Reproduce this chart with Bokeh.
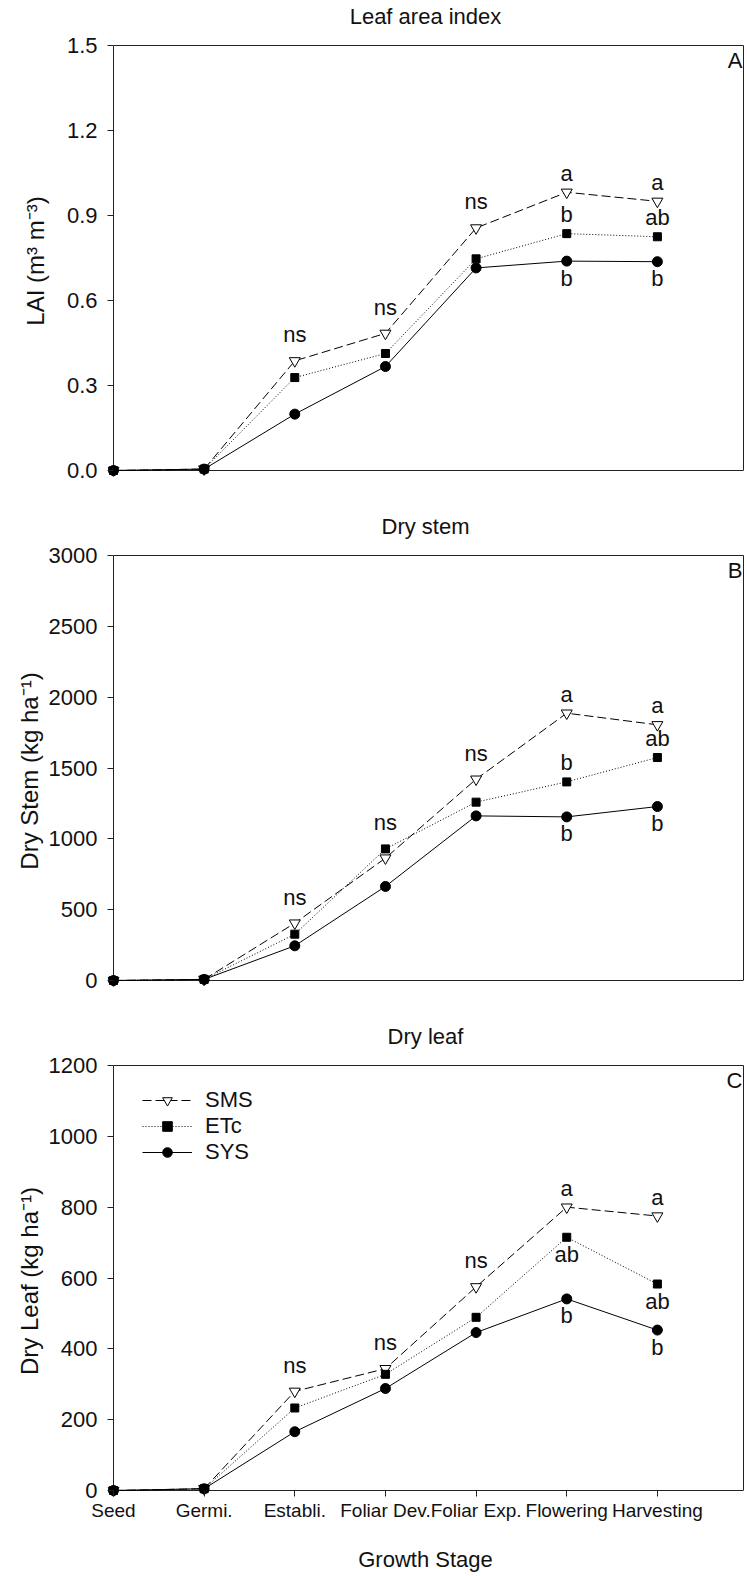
from bokeh.plotting import figure
from bokeh.models import (Range1d, LinearAxis, FixedTicker, NumeralTickFormatter,
                          Legend, LegendItem, Label, ColumnDataSource)
from bokeh.layouts import column
from bokeh.core.properties import value
from bokeh.embed import file_html
from bokeh.resources import INLINE

# ---------------- data ----------------
STAGES = ["Seed", "Germi.", "Establi.", "Foliar Dev.", "Foliar Exp.", "Flowering", "Harvesting"]
SERIES = ["SMS", "ETc", "SYS"]

LAI_SMS = [0.0, 0.005, 0.387, 0.484, 0.856, 0.982, 0.950]
LAI_ETC = [0.0, 0.005, 0.328, 0.413, 0.747, 0.836, 0.825]
LAI_SYS = [0.0, 0.005, 0.199, 0.367, 0.715, 0.739, 0.737]

STEM_SMS = [0, 8, 405, 864, 1421, 1887, 1805]
STEM_ETC = [0, 8, 327, 929, 1259, 1402, 1574]
STEM_SYS = [0, 8, 245, 664, 1162, 1155, 1228]

LEAF_SMS = [0, 5, 280, 344, 575, 800, 775]
LEAF_ETC = [0, 5, 233, 328, 489, 715, 583]
LEAF_SYS = [0, 5, 166, 288, 446, 541, 453]

LAI_TICKS = [0.0, 0.3, 0.6, 0.9, 1.2, 1.5]
STEM_TICKS = [0, 500, 1000, 1500, 2000, 2500, 3000]
LEAF_TICKS = [0, 200, 400, 600, 800, 1000, 1200]

# significance letters: (stage index, series or None = highest, text, side)
LAI_MARKS = [(2, None, "ns", "above"), (3, None, "ns", "above"), (4, None, "ns", "above"),
             (5, "SMS", "a", "above"), (5, "ETc", "b", "above"), (5, "SYS", "b", "below"),
             (6, "SMS", "a", "above"), (6, "ETc", "ab", "above"), (6, "SYS", "b", "below")]
STEM_MARKS = [(2, None, "ns", "above"), (3, None, "ns", "above"), (4, None, "ns", "above"),
              (5, "SMS", "a", "above"), (5, "ETc", "b", "above"), (5, "SYS", "b", "below"),
              (6, "SMS", "a", "above"), (6, "ETc", "ab", "above"), (6, "SYS", "b", "below")]
LEAF_MARKS = [(2, None, "ns", "above"), (3, None, "ns", "above"), (4, None, "ns", "above"),
              (5, "SMS", "a", "above"), (5, "ETc", "ab", "below"), (5, "SYS", "b", "below"),
              (6, "SMS", "a", "above"), (6, "ETc", "ab", "below"), (6, "SYS", "b", "below")]

# ---------------- style ----------------
FONT = "Liberation Sans"
W = 745
PAD = 6                      # px between frame edge and the zero lines
FRAME_L = 107
FRAME_R = 2
TOP = 44
FRAME_H = 432
X_END = 6.95
FRAME_W = W - FRAME_L - FRAME_R
X_START = -X_END * PAD / (FRAME_W - PAD)
AX = "#222222"
TXT = "#111111"

STYLE = {
    "SMS": dict(dash="9 4", marker="inverted_triangle", size=11, fill="white"),
    "ETc": dict(dash="1 2", marker="square", size=8, fill="black"),
    "SYS": dict(dash="solid", marker="circle", size=10, fill="black"),
}


def bare_axis(ax):
    ax.major_tick_out = 0
    ax.major_tick_in = 0
    ax.major_label_standoff = 0
    ax.minor_tick_line_color = None
    ax.major_tick_line_color = None


def label_style(ax, size, standoff):
    ax.axis_label_text_font = FONT
    ax.axis_label_text_font_size = size
    ax.axis_label_text_font_style = "normal"
    ax.axis_label_text_color = TXT
    ax.axis_label_standoff = standoff


def make_panel(title, letter, ylabel, ticks, fmt, values, marks, bottom,
               ylab_standoff, show_x=False, legend=False):
    ytop = ticks[-1]
    y_start = -ytop * PAD / (FRAME_H - PAD)
    height = TOP + FRAME_H + bottom
    p = figure(width=W, height=height,
               x_range=Range1d(X_START, X_END), y_range=Range1d(y_start, ytop),
               x_axis_type=None, y_axis_type=None,
               output_backend="svg", toolbar_location=None,
               min_border_left=FRAME_L, min_border_right=FRAME_R,
               min_border_top=TOP, min_border_bottom=bottom)
    p.outline_line_color = None
    p.background_fill_color = "white"
    p.border_fill_color = "white"

    # left axis: ticks reach from frame edge to the zero line
    yax = LinearAxis(ticker=FixedTicker(ticks=ticks),
                     formatter=NumeralTickFormatter(format=fmt),
                     axis_label=ylabel)
    yax.axis_line_color = None
    yax.major_tick_line_color = AX
    yax.major_tick_out = 0
    yax.major_tick_in = PAD
    yax.minor_tick_line_color = None
    yax.major_label_standoff = 10
    yax.major_label_text_font = FONT
    yax.major_label_text_font_size = "22px"
    yax.major_label_text_color = TXT
    label_style(yax, "24px", ylab_standoff)
    p.add_layout(yax, "left")

    xax = LinearAxis(ticker=FixedTicker(ticks=list(range(len(STAGES))) if show_x else []))
    xax.axis_line_color = None
    xax.major_tick_line_color = AX
    xax.major_tick_out = 0
    xax.major_tick_in = PAD
    xax.minor_tick_line_color = None
    if show_x:
        xax.major_label_overrides = {i: s for i, s in enumerate(STAGES)}
        xax.major_label_standoff = 3
        xax.major_label_text_font = FONT
        xax.major_label_text_font_size = "19px"
        xax.major_label_text_color = TXT
        xax.axis_label = "Growth Stage"
        label_style(xax, "22px", 23)
    else:
        bare_axis(xax)
    p.add_layout(xax, "below")

    # top border line, carrying the panel title; right border line
    topax = LinearAxis(bounds=(0, X_END), ticker=FixedTicker(ticks=[]), axis_label=title)
    topax.axis_line_color = AX
    bare_axis(topax)
    label_style(topax, "22px", 17)
    p.add_layout(topax, "above")

    rax = LinearAxis(bounds=(0, ytop), ticker=FixedTicker(ticks=[]))
    rax.axis_line_color = AX
    bare_axis(rax)
    p.add_layout(rax, "right")

    # zero lines (the chart's own axis lines), spanning the axis limits
    p.segment(x0=[0, 0], y0=[0, 0], x1=[0, X_END], y1=[ytop, 0],
              line_color=AX, line_width=1)

    xs = list(range(len(STAGES)))
    items = []
    for name in SERIES:
        st = STYLE[name]
        src = ColumnDataSource(dict(x=xs, y=values[name]))
        lr = p.line("x", "y", source=src, line_color="black", line_width=1,
                    line_dash=st["dash"])
        sr = p.scatter("x", "y", source=src, marker=st["marker"], size=st["size"],
                       fill_color=st["fill"], line_color="black", line_width=1)
        items.append(LegendItem(label=name, renderers=[lr, sr]))

    # significance letters anchored to series values
    ax_, ay_, at_, ao_ = [], [], [], []
    for stage, ser, txt, side in marks:
        if ser is None:
            base = max(values[s][stage] for s in SERIES)
        else:
            base = values[ser][stage]
        ax_.append(stage)
        ay_.append(base)
        at_.append(txt)
        if side == "above":
            ao_.append(-(26 if txt == "ns" else 19))
        else:
            ao_.append(17)
    asrc = ColumnDataSource(dict(x=ax_, y=ay_, text=at_, yoff=ao_))
    p.text("x", "y", text="text", y_offset="yoff", source=asrc,
           text_align="center", text_baseline="middle",
           text_font=value(FONT), text_font_size=value("22px"), text_color=TXT)

    p.add_layout(Label(x=X_END, y=ytop, x_offset=-1, y_offset=-2, text=letter,
                       text_align="right", text_baseline="top",
                       text_font=FONT, text_font_size="22px", text_color=TXT))

    if legend:
        lg = Legend(items=items, location=(35, 331))
        lg.border_line_color = None
        lg.background_fill_alpha = 0
        lg.padding = 0
        lg.margin = 0
        lg.spacing = 0
        lg.glyph_width = 50
        lg.glyph_height = 24
        lg.label_height = 24
        lg.label_standoff = 13
        lg.label_text_font = FONT
        lg.label_text_font_size = "22px"
        lg.label_text_color = TXT
        p.add_layout(lg)
    return p


pA = make_panel("Leaf area index", "A", "LAI (m\u00b3 m\u207b\u00b3)", LAI_TICKS, "0.0",
                {"SMS": LAI_SMS, "ETc": LAI_ETC, "SYS": LAI_SYS}, LAI_MARKS,
                bottom=34, ylab_standoff=15)
pB = make_panel("Dry stem", "B", "Dry Stem (kg ha\u207b\u00b9)", STEM_TICKS, "0",
                {"SMS": STEM_SMS, "ETc": STEM_ETC, "SYS": STEM_SYS}, STEM_MARKS,
                bottom=34, ylab_standoff=3)
pC = make_panel("Dry leaf", "C", "Dry Leaf (kg ha\u207b\u00b9)", LEAF_TICKS, "0",
                {"SMS": LEAF_SMS, "ETc": LEAF_ETC, "SYS": LEAF_SYS}, LEAF_MARKS,
                bottom=78, ylab_standoff=3, show_x=True, legend=True)

layout = column(pA, pB, pC)
open("out.html", "w").write(file_html(layout, INLINE))
